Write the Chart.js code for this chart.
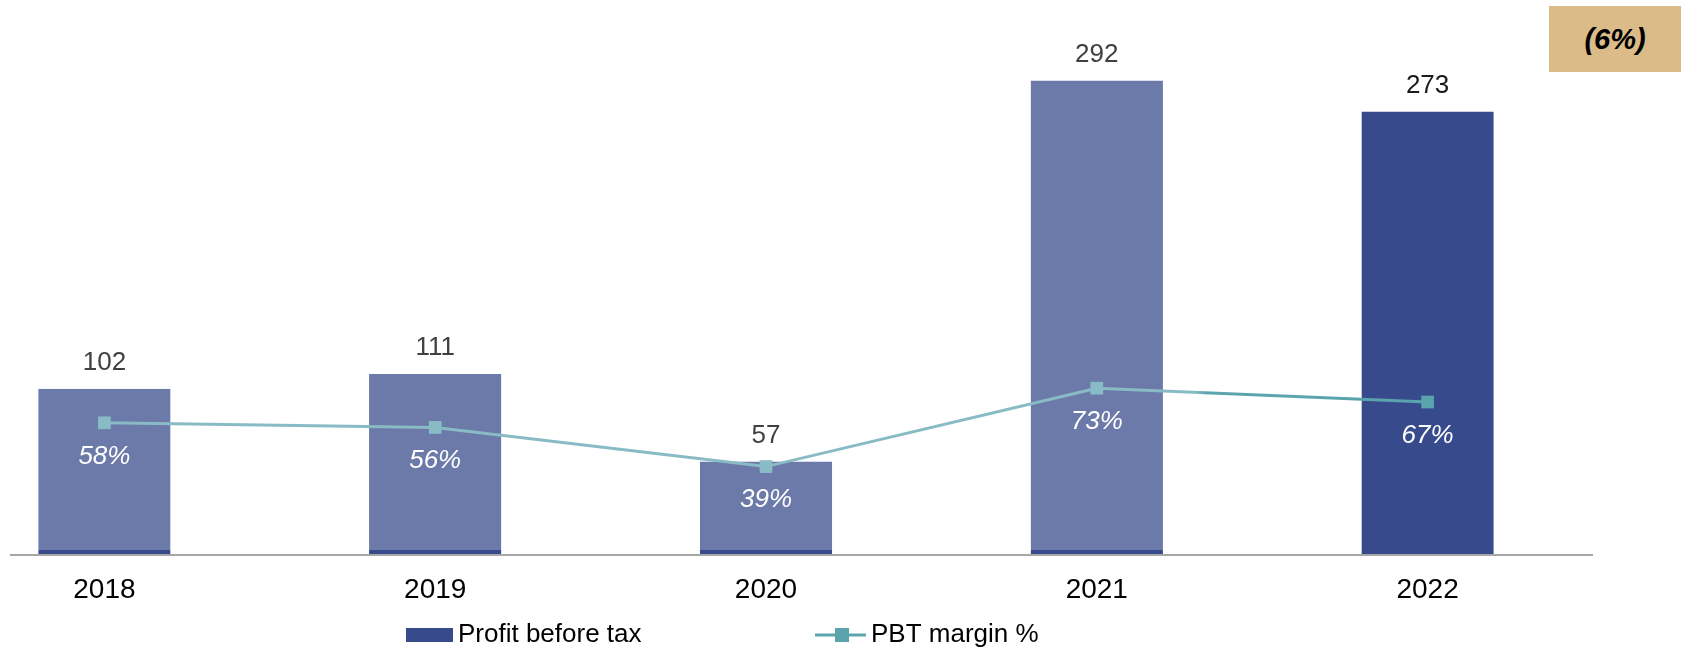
<!DOCTYPE html>
<html>
<head>
<meta charset="utf-8">
<script src="https://cdn.jsdelivr.net/npm/chart.js@4.4.1/dist/chart.umd.min.js"></script>
<style>
html, body { margin: 0; padding: 0; background: #fff; overflow: hidden; width: 1681px; height: 649px; }
#wrap { position: absolute; left: -61px; top: 0; width: 1742px; height: 649px; }
#badge {
  position: absolute; left: 1549px; top: 6px; width: 132px; height: 66px;
  background: #dbbb88; color: #000;
  font: italic bold 29px 'Liberation Sans', Arial, sans-serif;
  display: flex; align-items: center; justify-content: center;
}
</style>
</head>
<body>
<div id="wrap"><canvas id="pbtChart" width="1742" height="649"></canvas></div>
<div id="badge">(6%)</div>
<script>

/******************************************************************
DATA
******************************************************************/

var years = ["2018", "2019", "2020", "2021", "2022"];
var profitBeforeTax = [102, 111, 57, 292, 273];
var pbtMargin = [58, 56, 39, 73, 67];
var legendLabels = ["Profit before tax", "PBT margin %"];

/******************************************************************
STYLE
******************************************************************/

var FONT = "'Liberation Sans', Arial, sans-serif";
var barLight = '#6b7aa8';
var barDark = '#374a8b';
var lineLight = '#88bbc5';
var lineDark = '#5ba3ad';
var last = years.length - 1;

var canvas = document.getElementById('pbtChart');
var ctx = canvas.getContext('2d');

// current year is drawn darker, history lighter
var barColors = years.map(function (y, i) { return i === last ? barDark : barLight; });
var markerColors = years.map(function (y, i) { return i === last ? lineDark : lineLight; });

function lastSegment(seg) {
  if (seg.p1DataIndex !== last) return undefined;
  var g = ctx.createLinearGradient(seg.p0.x, 0, seg.p1.x, 0);
  g.addColorStop(0, lineLight);
  g.addColorStop(0.3, lineLight);
  g.addColorStop(0.33, lineDark);
  g.addColorStop(1, lineDark);
  return g;
}

/******************************************************************
PLUGINS (labels, axis line, legend)
******************************************************************/

var extras = {
  id: 'extras',
  afterDatasetsDraw: function (chart) {
    var c = chart.ctx;
    var area = chart.chartArea;
    var zeroY = chart.scales.y.getPixelForValue(0);

    // axis line
    c.save();
    c.strokeStyle = '#a6a6a6';
    c.lineWidth = 2;
    c.beginPath();
    c.moveTo(71, zeroY + 1);
    c.lineTo(area.right, zeroY + 1);
    c.stroke();

    c.textAlign = 'center';
    c.textBaseline = 'middle';

    // values above bars
    var bars = chart.getDatasetMeta(0).data;
    bars.forEach(function (bar, i) {
      c.font = '26px ' + FONT;
      c.fillStyle = i === last ? '#1a1a1a' : '#404040';
      c.fillText(String(profitBeforeTax[i]), bar.x, bar.y - 26);
    });

    // margins under points
    var pts = chart.getDatasetMeta(1).data;
    pts.forEach(function (pt, i) {
      c.font = 'italic 26px ' + FONT;
      c.fillStyle = '#ffffff';
      c.fillText(pbtMargin[i] + '%', pt.x, pt.y + 33.5);
    });

    // legend
    c.textAlign = 'left';
    c.textBaseline = 'alphabetic';
    c.font = '26px ' + FONT;
    c.fillStyle = barDark;
    c.fillRect(467, 628, 47, 14);
    c.fillStyle = '#000';
    c.fillText(legendLabels[0], 519, 642);

    c.strokeStyle = lineDark;
    c.lineWidth = 3;
    c.beginPath();
    c.moveTo(876, 635);
    c.lineTo(927, 635);
    c.stroke();
    c.fillStyle = lineDark;
    c.fillRect(896, 628, 14, 14);
    c.fillStyle = '#000';
    c.fillText(legendLabels[1], 932, 642);
    c.restore();
  }
};

/******************************************************************
CHART
******************************************************************/

var pbtChart = new Chart(ctx, {
  type: 'bar',
  data: {
    labels: years,
    datasets: [{
      type: 'bar',
      label: legendLabels[0],
      data: profitBeforeTax,
      backgroundColor: barColors,
      borderColor: barDark,
      borderWidth: { top: 0, left: 0, right: 0, bottom: 4 },
      borderSkipped: false,
      barPercentage: 0.4,
      categoryPercentage: 1,
      yAxisID: 'y',
      order: 1
    }, {
      type: 'line',
      label: legendLabels[1],
      data: pbtMargin,
      borderColor: lineLight,
      borderWidth: 3,
      tension: 0,
      pointStyle: 'rect',
      pointRadius: 9,
      pointBorderWidth: 0,
      pointBackgroundColor: markerColors,
      pointBorderColor: markerColors,
      segment: { borderColor: lastSegment },
      yAxisID: 'y2',
      order: 0
    }]
  },
  options: {
    responsive: false,
    animation: false,
    layout: { autoPadding: false, padding: { top: 19, right: 88, bottom: 0, left: 0 } },
    plugins: {
      legend: { display: false },
      tooltip: { enabled: false }
    },
    scales: {
      x: {
        grid: { display: false, drawTicks: false },
        border: { display: false },
        ticks: { color: '#000', padding: 19, font: { family: FONT, size: 28 } },
        afterFit: function (s) { s.height = 95; }
      },
      y: { display: false, min: 0, max: 330 },
      y2: { display: false, min: 1.1, max: 233.1 }
    }
  },
  plugins: [extras]
});

</script>
</body>
</html>
